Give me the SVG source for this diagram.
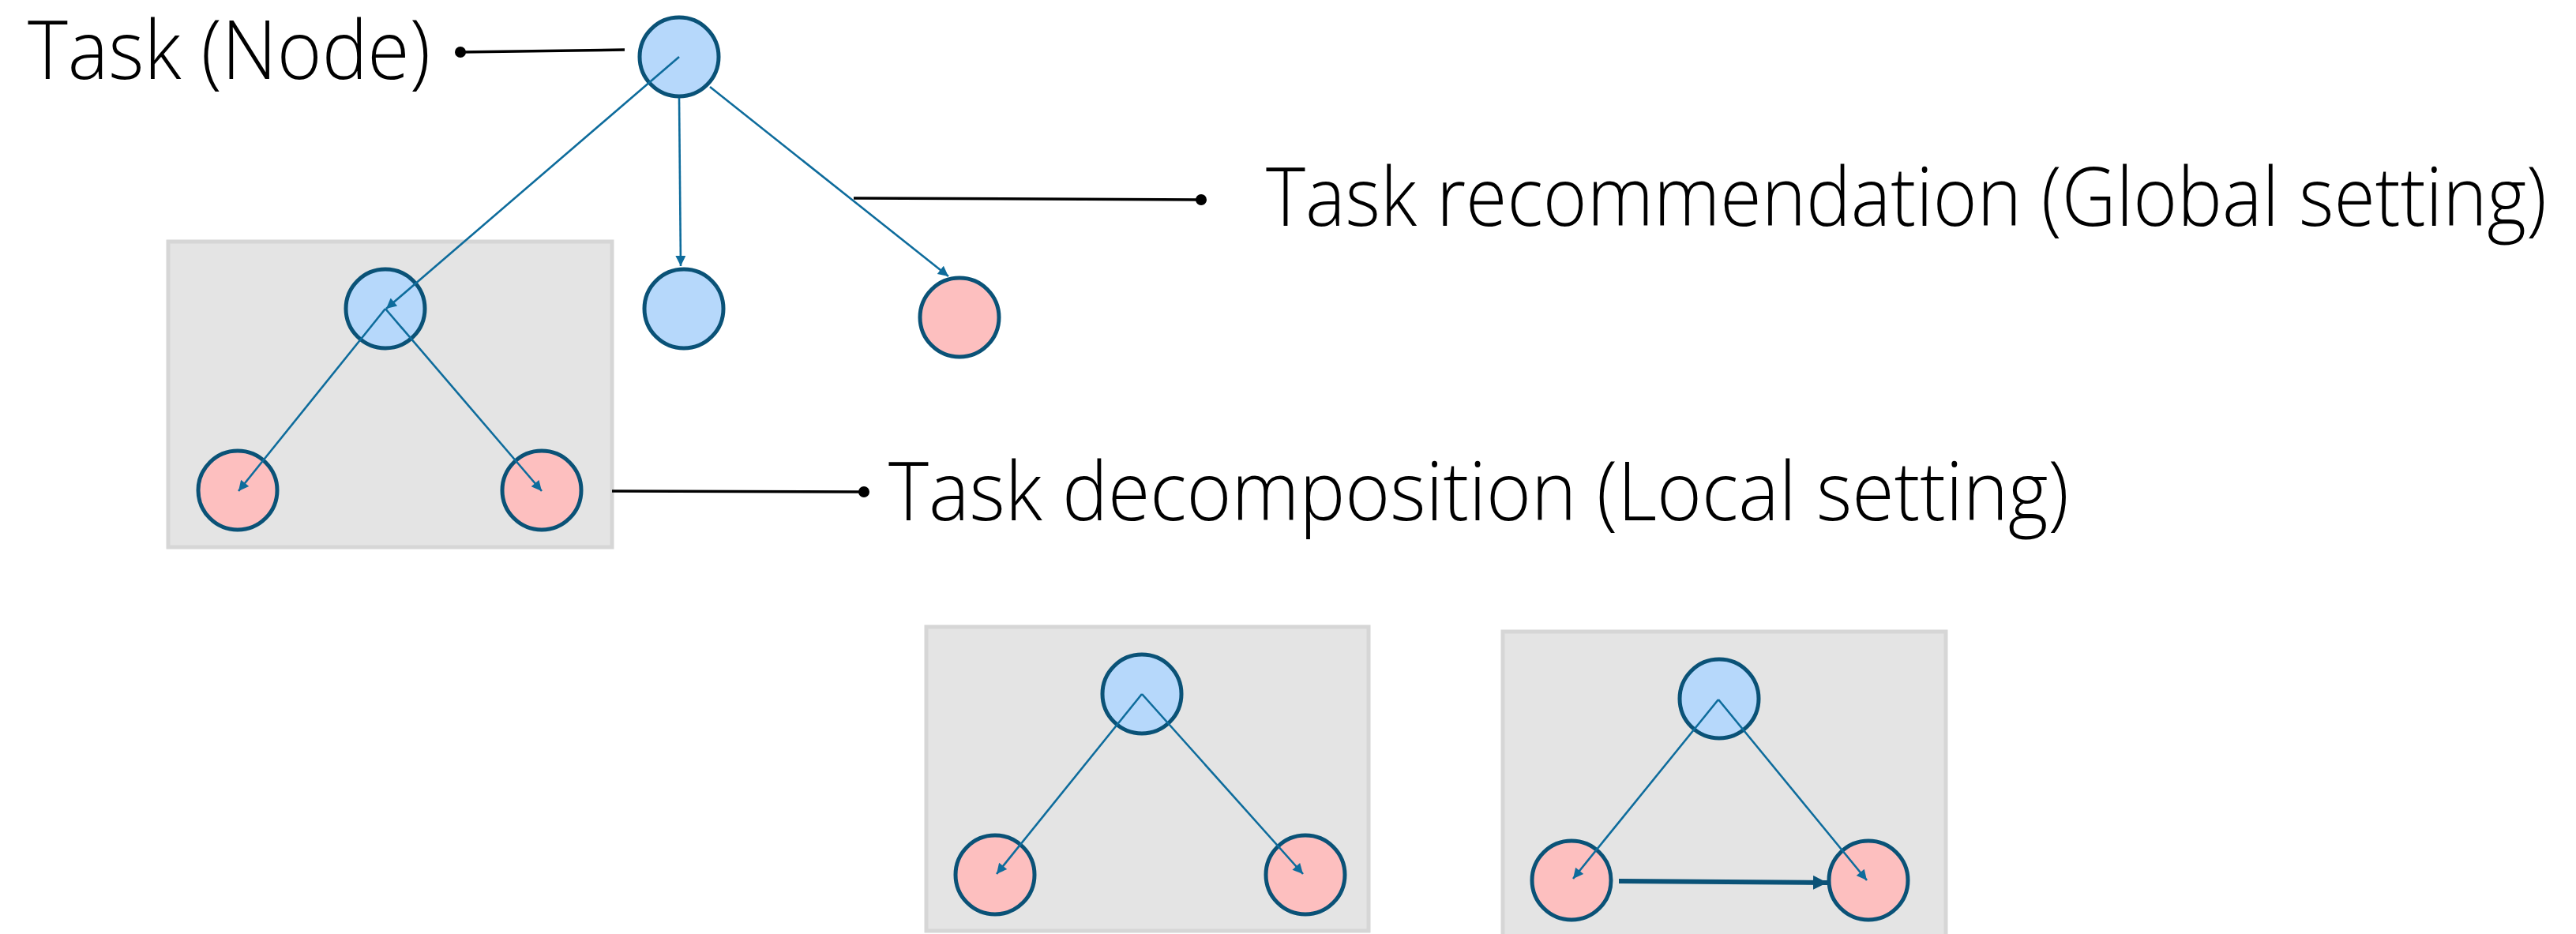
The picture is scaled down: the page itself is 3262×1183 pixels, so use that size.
<svg xmlns="http://www.w3.org/2000/svg" width="3262" height="1183" viewBox="0 0 3262 1183">
  <defs>
    <style>
      .box { fill: #e4e4e4; stroke: #d6d6d6; stroke-width: 5; }
      .blue { fill: #b6d8fb; stroke: #0a5277; stroke-width: 5; }
      .pink { fill: #fdbfbf; stroke: #0a5277; stroke-width: 5; }
      .edge { stroke: #0e6c9c; stroke-width: 2.6; fill: none; marker-end: url(#arr); }
      .thick { stroke: #0a5277; stroke-width: 6; fill: none; marker-end: url(#arrT); }
      .lead { stroke: #000; stroke-width: 3.5; fill: none; }
      .dot { fill: #000; }
      .lbl { font-family: "Open Sans", "Liberation Sans", sans-serif; font-weight: 300; font-size: 104px; fill: #000; }
    </style>
    <marker id="arr" viewBox="0 0 10 10" refX="10" refY="5" markerWidth="17" markerHeight="13" markerUnits="userSpaceOnUse" orient="auto">
      <path d="M0,0 L10,5 L0,10 Z" fill="#0e6c9c"/>
    </marker>
    <marker id="arrT" viewBox="0 0 10 10" refX="10" refY="5" markerWidth="18" markerHeight="18" markerUnits="userSpaceOnUse" orient="auto">
      <path d="M0,0 L10,5 L0,10 Z" fill="#0a5277"/>
    </marker>
  </defs>

  <g id="boxes">
    <rect id="box-local" class="box" x="213" y="306" width="562" height="387"/>
    <rect id="box-a" class="box" x="1173" y="794" width="560" height="385"/>
    <rect id="box-b" class="box" x="1903" y="800" width="561" height="390"/>
  </g>

  <g id="labels">
    <text id="label-node" class="lbl" x="35" y="100" textLength="510" lengthAdjust="spacingAndGlyphs">Task (Node)</text>
    <text id="label-global" class="lbl" x="1603" y="286" textLength="1622" lengthAdjust="spacingAndGlyphs">Task recommendation (Global setting)</text>
    <text id="label-local" class="lbl" x="1125" y="659" textLength="1495" lengthAdjust="spacingAndGlyphs">Task decomposition (Local setting)</text>
  </g>

  <g id="n-root"><circle class="blue" cx="860" cy="72" r="50"/></g>
  <g id="n-mid"><circle class="blue" cx="488" cy="391" r="50"/></g>
  <g id="n-blue2"><circle class="blue" cx="866" cy="391" r="50"/></g>
  <g id="n-pink-top"><circle class="pink" cx="1215" cy="402" r="50"/></g>
  <g id="n-left"><circle class="pink" cx="301" cy="621" r="50"/></g>
  <g id="n-right"><circle class="pink" cx="686" cy="621" r="50"/></g>

  <g id="n-a-top"><circle class="blue" cx="1446" cy="879" r="50"/></g>
  <g id="n-a-left"><circle class="pink" cx="1260" cy="1108" r="50"/></g>
  <g id="n-a-right"><circle class="pink" cx="1653" cy="1108" r="50"/></g>

  <g id="n-b-top"><circle class="blue" cx="2177" cy="885" r="50"/></g>
  <g id="n-b-left"><circle class="pink" cx="1990" cy="1115" r="50"/></g>
  <g id="n-b-right"><circle class="pink" cx="2366" cy="1115" r="50"/></g>

  <g id="connectors">
    <line class="edge" x1="860" y1="72" x2="489" y2="391"/>
    <line class="edge" x1="860" y1="124" x2="862" y2="337"/>
    <line class="edge" x1="899" y1="110" x2="1201" y2="350"/>
    <line class="edge" x1="488" y1="391" x2="302" y2="622"/>
    <line class="edge" x1="488" y1="391" x2="686" y2="622"/>

    <line class="edge" x1="1446" y1="879" x2="1262" y2="1107"/>
    <line class="edge" x1="1446" y1="879" x2="1650" y2="1107"/>

    <line class="edge" x1="2176" y1="886" x2="1992" y2="1113"/>
    <line class="edge" x1="2176" y1="886" x2="2364" y2="1115"/>
    <line class="thick" x1="2050" y1="1116" x2="2314" y2="1118"/>

    <line class="lead" x1="791" y1="63" x2="583" y2="66"/>
    <circle class="dot" cx="583" cy="66" r="7"/>
    <line class="lead" x1="1081" y1="251" x2="1521" y2="253"/>
    <circle class="dot" cx="1521" cy="253" r="7"/>
    <line class="lead" x1="775" y1="622" x2="1094" y2="623"/>
    <circle class="dot" cx="1094" cy="623" r="7"/>
  </g>
</svg>
